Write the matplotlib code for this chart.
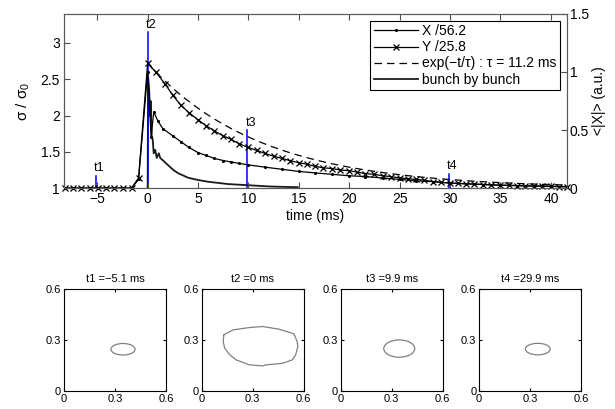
import numpy as np
import matplotlib
matplotlib.use("Agg")
import matplotlib.pyplot as plt
from matplotlib.patches import Ellipse

plt.rcParams["font.family"] = ["Liberation Sans", "DejaVu Sans"]
plt.rcParams["mathtext.fontset"] = "custom"
plt.rcParams["mathtext.rm"] = "Liberation Sans"
plt.rcParams["mathtext.it"] = "Liberation Sans:italic"

# ==========================
# data
# ==========================

t_y = [-8.2, -7.4, -6.6, -5.7, -4.9, -4.1, -3.3, -2.4, -1.6, -0.9,
       0.0, 0.8, 1.7, 2.5, 3.3, 4.1, 5.0, 5.8, 6.6, 7.5, 8.3, 9.1,
       10.0, 10.8, 11.6, 12.5, 13.3, 14.1, 15.0, 15.8, 16.6, 17.4,
       18.3, 19.1, 20.0, 20.8, 21.6, 22.5, 23.3, 24.1, 25.0, 25.8,
       26.6, 27.4, 28.3, 29.1, 30.0, 30.8, 31.6, 32.4, 33.3, 34.1,
       35.0, 35.8, 36.6, 37.4, 38.3, 39.1, 40.0, 40.8, 41.6]
y_norm = [1.0, 1.0, 1.0, 1.0, 1.0, 1.0, 1.0, 1.0, 1.0, 1.14,
          2.72, 2.60, 2.44, 2.28, 2.14, 2.04, 1.94, 1.86, 1.79, 1.72, 1.67, 1.61,
          1.56, 1.52, 1.48, 1.44, 1.41, 1.38, 1.35, 1.33, 1.30, 1.28,
          1.27, 1.25, 1.24, 1.22, 1.20, 1.19, 1.17, 1.16, 1.14, 1.13,
          1.12, 1.11, 1.09, 1.08, 1.07, 1.065, 1.06, 1.055, 1.05, 1.045,
          1.04, 1.04, 1.035, 1.03, 1.03, 1.03, 1.025, 1.02, 1.02]

t_x = [-8.2, -7.4, -6.6, -5.7, -4.9, -4.1, -3.3, -2.4, -1.6, -0.9,
       0.0, 0.35, 0.6, 1.0, 1.5, 2.5, 3.3, 4.1, 5.0, 5.8, 6.6, 7.5, 8.3,
       9.1, 10.0, 11.6, 13.3, 15.0, 16.6, 18.3, 20.0, 21.6, 23.3, 25.0,
       26.6, 28.3, 30.0, 31.6, 33.3, 35.0, 36.6, 38.3, 40.0, 41.6]
x_norm = [1.0, 1.0, 1.0, 1.0, 1.0, 1.0, 1.0, 1.0, 1.0, 1.12,
          2.6, 1.7, 2.05, 1.93, 1.82, 1.72, 1.64, 1.56, 1.49, 1.45, 1.41, 1.38, 1.36,
          1.34, 1.32, 1.29, 1.26, 1.23, 1.21, 1.19, 1.17, 1.16, 1.14, 1.12,
          1.10, 1.09, 1.07, 1.06, 1.05, 1.04, 1.035, 1.03, 1.025, 1.02]

t_bunch = [0.0, 0.05, 0.15, 0.25, 0.3, 0.4, 0.5, 0.6, 0.75, 0.9, 1.0, 1.1,
           1.25, 1.5, 2.0, 2.5, 3.0, 3.5, 4.0, 5.0, 6.0, 7.0, 8.0, 9.0,
           10.0, 11.0, 12.0, 13.0, 14.0, 14.9]
bunch = [0.0, 0.95, 0.85, 0.62, 0.75, 0.45, 0.42, 0.30, 0.33, 0.26, 0.28, 0.30,
         0.26, 0.24, 0.20, 0.16, 0.13, 0.11, 0.09, 0.07, 0.055, 0.045, 0.035, 0.03,
         0.025, 0.02, 0.015, 0.012, 0.01, 0.008]

tau = 11.2
exp_amp = 1.72

snap_t = [-5.1, 0.0, 9.9, 29.9]
snap_names = ["t1", "t2", "t3", "t4"]
snap_top = [1.17, 3.15, 1.80, 1.20]
snap_titles = ["t1 =\u22125.1 ms", "t2 =0 ms", "t3 =9.9 ms", "t4 =29.9 ms"]

# beam profile contours (centre x, centre y, full width, full height)
ell_1 = (0.347, 0.246, 0.142, 0.068)
ell_3 = (0.344, 0.250, 0.182, 0.102)
ell_4 = (0.345, 0.247, 0.145, 0.068)
blob_x = [0.130, 0.184, 0.281, 0.358, 0.455, 0.542, 0.561, 0.565, 0.552, 0.532,
          0.474, 0.377, 0.358, 0.281, 0.203, 0.165, 0.135, 0.126, 0.130]
blob_y = [0.331, 0.360, 0.374, 0.380, 0.364, 0.337, 0.291, 0.262, 0.213, 0.183,
          0.163, 0.154, 0.148, 0.154, 0.183, 0.213, 0.252, 0.291, 0.331]

# ==========================
# figure
# ==========================

fig = plt.figure(figsize=(6.15, 4.09), dpi=100)

ax = fig.add_axes([0.104, 0.540, 0.818, 0.426])
ax2 = ax.twinx()

l_x, = ax.plot(t_x, x_norm, "-", color="k", lw=0.9, marker=".", ms=2.5,
               label="X /56.2", clip_on=False)
l_y, = ax.plot(t_y, y_norm, "-", color="k", lw=0.9, marker="x", ms=4.5,
               mew=0.9, label="Y /25.8", clip_on=False)
t_fit = np.linspace(0, 41.6, 200)
l_e, = ax.plot(t_fit, 1 + exp_amp * np.exp(-t_fit / tau), "--", color="k",
               lw=0.9, dashes=(6, 4), label="exp(\u2212t/\u03c4) : \u03c4 = 11.2 ms")
l_b, = ax2.plot(t_bunch, bunch, "-", color="0.1", lw=1.3,
                label="bunch by bunch")

for t, name, top in zip(snap_t, snap_names, snap_top):
    ax.plot([t, t], [1.0, top], color="#0000ff", lw=1.1, zorder=1)
    ax.text(t - 0.2, top + 0.02, name, fontsize=9, ha="left", va="bottom")

ax.set_xlim(-8.3, 41.6)
ax.set_ylim(1, 3.4)
ax2.set_ylim(0, 1.5)
ax.set_xticks([-5, 0, 5, 10, 15, 20, 25, 30, 35, 40])
ax.set_xticklabels(["\u22125", "0", "5", "10", "15", "20", "25", "30", "35", "40"])
ax.set_yticks([1, 1.5, 2, 2.5, 3])
ax.set_yticklabels(["1", "1.5", "2", "2.5", "3"])
ax2.set_yticks([0, 0.5, 1, 1.5])
ax2.set_yticklabels(["0", "0.5", "1", "1.5"])

ax.tick_params(direction="in", top=True, right=False, length=4,
               labelsize=10, pad=3, color="0.3")
ax2.tick_params(direction="in", length=4, labelsize=10, pad=2, color="0.3")
for s in ax.spines.values():
    s.set_color("0.35")
for s in ax2.spines.values():
    s.set_color("0.35")

ax.set_xlabel("time (ms)", fontsize=10, labelpad=2)
ax.set_ylabel("\u03c3 / \u03c3$_0$", fontsize=11, labelpad=6)
ax2.set_ylabel("<|X|> (a.u.)", fontsize=10, labelpad=2)

leg = ax.legend(handles=[l_x, l_y, l_e, l_b], loc="upper right",
                fontsize=10, handlelength=3.2, handletextpad=0.3,
                labelspacing=0.15, borderpad=0.25, borderaxespad=0.5,
                fancybox=False, framealpha=1, edgecolor="k")
leg.get_frame().set_linewidth(0.8)
ax.set_zorder(ax2.get_zorder() + 1)
ax.patch.set_visible(False)

# ==========================
# beam snapshots
# ==========================

lefts = [0.104, 0.328, 0.554, 0.779]
for i, left in enumerate(lefts):
    sub = fig.add_axes([left, 0.044, 0.166, 0.249])
    if i == 1:
        sub.plot(blob_x, blob_y, color="0.5", lw=0.9)
    else:
        cx, cy, w, h = [ell_1, None, ell_3, ell_4][i]
        sub.add_patch(Ellipse((cx, cy), w, h, fill=False,
                              edgecolor="0.5", lw=0.9))
    sub.set_xlim(0, 0.6)
    sub.set_ylim(0, 0.6)
    sub.set_xticks([0, 0.3, 0.6])
    sub.set_yticks([0, 0.3, 0.6])
    sub.set_xticklabels(["0", "0.3", "0.6"])
    sub.set_yticklabels(["0", "0.3", "0.6"])
    sub.tick_params(direction="in", top=True, right=True, length=2,
                    labelsize=8, pad=2)
    sub.set_title(snap_titles[i], fontsize=8, pad=5)

plt.savefig("out.png", dpi=100)
plt.close()
